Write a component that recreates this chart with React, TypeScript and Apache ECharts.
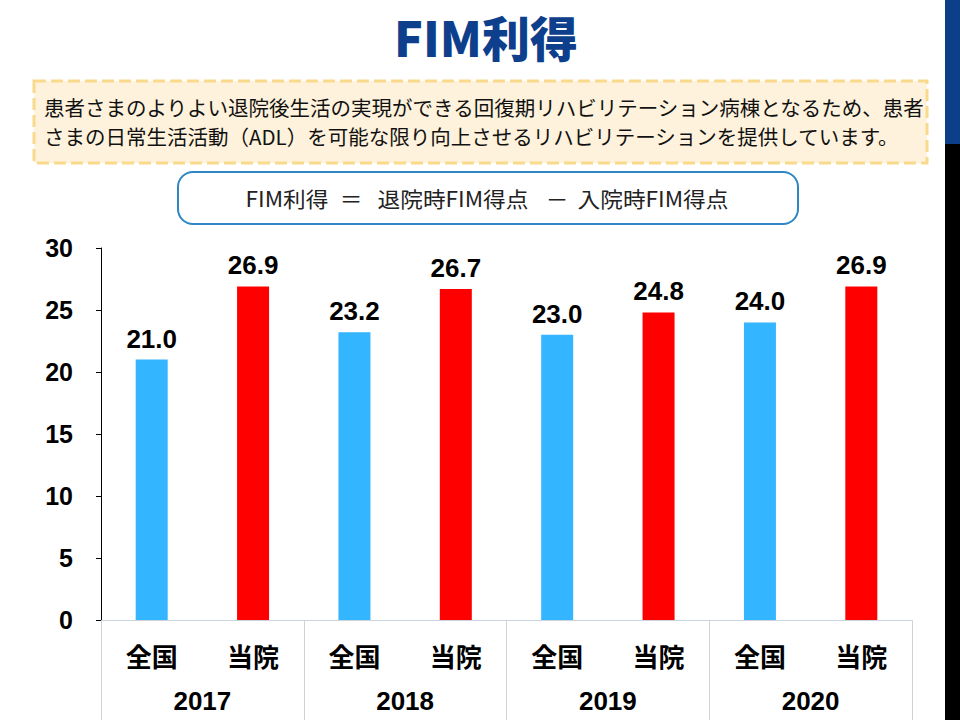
import React, { useEffect, useRef } from "react";
import * as echarts from "echarts";

const years = ["2017", "2018", "2019", "2020"];
const groups = ["全国", "当院"];
const nationalValues = [21.0, 23.2, 23.0, 24.0];
const hospitalValues = [26.9, 26.7, 24.8, 26.9];
const yTicks = { min: 0, max: 30, interval: 5 };

const titleText = "FIM利得";
const noteLine1 = "患者さまのよりよい退院後生活の実現ができる回復期リハビリテーション病棟となるため、患者";
const noteLine2 = "さまの日常生活活動（ADL）を可能な限り向上させるリハビリテーションを提供しています。";
const formulaParts = ["FIM利得", "＝", "退院時FIM得点", "－", "入院時FIM得点"];
const formulaPartCenterX = [287, 351, 453, 557, 653];

const BLUE = "#33B5FF";
const RED = "#FF0000";
const FONT = "'Liberation Sans', Arial, 'Noto Sans CJK JP', sans-serif";
const JP = "'Noto Sans CJK JP', sans-serif";

export default function App() {
  const ref = useRef<HTMLDivElement>(null);
  useEffect(() => {
    if (!ref.current) return;
    const chart = echarts.init(ref.current, undefined, { renderer: "svg" });
    const cats: string[] = [];
    const data: any[] = [];
    years.forEach((y, i) => {
      cats.push(groups[0]);
      data.push({ value: nationalValues[i], itemStyle: { color: BLUE } });
      cats.push(groups[1]);
      data.push({ value: hospitalValues[i], itemStyle: { color: RED } });
    });
    const formulaTexts = formulaParts.map((t, i) => ({
      type: "text",
      x: formulaPartCenterX[i],
      y: 198,
      scaleX: 1.08,
      style: {
        text: t,
        fontFamily: JP,
        fontSize: 21,
        fill: "#222",
        verticalAlign: "middle",
        align: "center",
      },
    }));
    chart.setOption({
      animation: false,
      backgroundColor: "#ffffff",
      title: {
        text: titleText,
        left: 481,
        textAlign: "center",
        top: 7,
        textStyle: { fontFamily: JP, fontWeight: 900, fontSize: 48, color: "#0D3F8C" },
      },
      grid: { left: 101, right: 48, top: 248, bottom: 100, containLabel: false },
      xAxis: [
        {
          type: "category",
          data: cats,
          axisLine: { show: true, lineStyle: { color: "#CDD3DA", width: 1 } },
          axisTick: { show: false },
          axisLabel: {
            interval: 0,
            margin: 22,
            fontFamily: JP,
            fontWeight: "bold",
            fontSize: 26,
            color: "#000",
          },
        },
        {
          type: "category",
          data: years,
          position: "bottom",
          gridIndex: 0,
          axisLine: { show: false },
          axisTick: { show: true, length: 100, interval: 0, lineStyle: { color: "#CDD3DA", width: 1 } },
          axisLabel: {
            interval: 0,
            margin: 68,
            fontFamily: FONT,
            fontWeight: "bold",
            fontSize: 26,
            color: "#000",
          },
        },
      ],
      yAxis: {
        type: "value",
        min: yTicks.min,
        max: yTicks.max,
        interval: yTicks.interval,
        axisLine: { show: true, lineStyle: { color: "#000", width: 1 } },
        axisTick: { show: true, length: 5, lineStyle: { color: "#000" } },
        splitLine: { show: false },
        axisLabel: { margin: 28, fontFamily: FONT, fontWeight: "bold", fontSize: 25, color: "#000" },
      },
      series: [
        {
          type: "bar",
          xAxisIndex: 0,
          data,
          barWidth: 32,
          label: {
            show: true,
            position: "top",
            distance: 8,
            formatter: (p: any) => Number(p.value).toFixed(1),
            fontFamily: FONT,
            fontWeight: "bold",
            fontSize: 26,
            color: "#000",
          },
        },
      ],
      graphic: [
        { type: "rect", shape: { x: 945, y: 0, width: 15, height: 144 }, style: { fill: "#0B3F8A" } },
        { type: "rect", shape: { x: 945, y: 144, width: 15, height: 576 }, style: { fill: "#000000" } },
        {
          type: "rect",
          shape: { x: 34, y: 81, width: 893, height: 82 },
          style: { fill: "#FEF2DC", stroke: "#F9D98C", lineWidth: 3, lineDash: [12, 5] },
        },
        {
          type: "text",
          x: 44,
          y: 107,
          style: { text: noteLine1, fontFamily: JP, fontSize: 20.5, fill: "#111", verticalAlign: "middle", align: "left" },
        },
        {
          type: "text",
          x: 44,
          y: 136,
          style: { text: noteLine2, fontFamily: JP, fontSize: 20.5, fill: "#111", verticalAlign: "middle", align: "left" },
        },
        {
          type: "rect",
          shape: { x: 178, y: 172, width: 620, height: 52, r: 15 },
          style: { fill: "#ffffff", stroke: "#2F86C4", lineWidth: 2 },
        },
        ...formulaTexts,
      ],
    });
    return () => chart.dispose();
  }, []);
  return <div ref={ref} style={{ position: "fixed", left: 0, top: 0, width: 960, height: 720 }} />;
}
